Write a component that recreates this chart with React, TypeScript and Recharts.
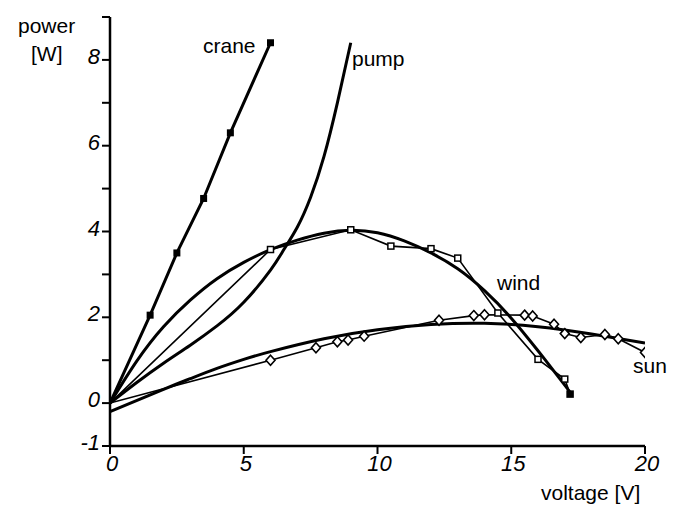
import React from 'react';
import { LineChart, Line, XAxis, YAxis } from 'recharts';

// measured points (voltage V, power W)
const craneX = [0, 1.5, 2.5, 3.5, 4.5, 6];
const craneY = [0, 2.05, 3.5, 4.77, 6.3, 8.4];

const windX = [0, 6, 9, 10.5, 12, 13, 14.5, 16, 17, 17.2];
const windY = [0, 3.58, 4.04, 3.66, 3.6, 3.38, 2.1, 1.02, 0.56, 0.21];

const sunX = [0, 6, 7.7, 8.5, 8.9, 9.5, 12.3, 13.6, 14, 15.5, 15.8, 16.6, 17, 17.6, 18.5, 19, 20];
const sunY = [0, 1.0, 1.29, 1.43, 1.47, 1.56, 1.93, 2.04, 2.06, 2.05, 2.03, 1.84, 1.62, 1.53, 1.6, 1.5, 1.18];

// fitted curves
const pumpX = [0, 1, 2, 3, 4, 5, 6, 6.5, 7, 7.5, 8, 8.5, 9];
const pumpY = [0, 0.48, 0.93, 1.35, 1.8, 2.35, 3.1, 3.58, 4.1, 4.8, 5.75, 7.0, 8.4];

const windFitX = [0, 1, 2, 3, 4, 5, 6, 7, 8, 9, 10, 11, 12, 13, 14, 15, 16, 17, 17.2];
const windFitY = [0, 0.98, 1.78, 2.4, 2.9, 3.28, 3.58, 3.8, 3.96, 4.03, 3.97, 3.78, 3.5, 3.13, 2.62, 1.98, 1.22, 0.42, 0.24];

const sunFitX = [0, 2, 3, 4, 5, 6, 8, 10, 12, 14, 16, 18, 20];
const sunFitY = [-0.2, 0.32, 0.57, 0.81, 1.02, 1.2, 1.5, 1.71, 1.83, 1.86, 1.78, 1.61, 1.4];

const yTicks = [-1, 0, 1, 2, 3, 4, 5, 6, 7, 8, 9];
const yLabelled = [-1, 0, 2, 4, 6, 8];
const xTicks = [0, 5, 10, 15, 20];

const toRows = (xs: number[], ys: number[]) => xs.map((x, i) => ({ x, y: ys[i] }));

const crane = toRows(craneX, craneY);
const wind = toRows(windX, windY);
const sun = toRows(sunX, sunY);
const pump = toRows(pumpX, pumpY);
const windFit = toRows(windFitX, windFitY);
const sunFit = toRows(sunFitX, sunFitY);

const FONT = '"Liberation Sans", Arial, sans-serif';

const FilledSquare = (p: any) => {
  if (p.payload.x === 0) return <g key={p.key} />;
  return <rect key={p.key} x={p.cx - 3.5} y={p.cy - 3.5} width={7} height={7} fill="#000" />;
};

const OpenSquare = (p: any) => {
  if (p.payload.x === 0) return <g key={p.key} />;
  const last = p.index === windX.length - 1;
  return (
    <rect key={p.key} x={p.cx - 3} y={p.cy - 3} width={6} height={6} fill={last ? '#000' : '#fff'} stroke="#000" strokeWidth={1.5} />
  );
};

const Diamond = (p: any) => {
  if (p.payload.x === 0) return <g key={p.key} />;
  const { cx, cy } = p;
  return (
    <path
      key={p.key}
      d={`M${cx},${cy - 5}L${cx + 4.5},${cy}L${cx},${cy + 5}L${cx - 4.5},${cy}Z`}
      fill="#fff"
      stroke="#000"
      strokeWidth={1.6}
    />
  );
};

const YTick = (p: any) => {
  const v = p.payload.value;
  if (!yLabelled.includes(v)) return <g />;
  return (
    <text x={p.x} y={p.y + 4} textAnchor="end" fontFamily={FONT} fontSize={22} fontStyle="italic" fill="#000">
      {v}
    </text>
  );
};

const XTick = (p: any) => (
  <text x={p.x + 2} y={471} textAnchor="middle" fontFamily={FONT} fontSize={22} fontStyle="italic" fill="#000">
    {p.payload.value}
  </text>
);

export default function App() {
  return (
    <div style={{ position: 'absolute', left: 0, top: 0, width: 677, height: 507, background: '#fff' }}>
      <LineChart width={677} height={507} margin={{ top: 17, right: 32, left: 0, bottom: 0 }}>
        <XAxis
          dataKey="x"
          type="number"
          domain={[0, 20]}
          ticks={xTicks}
          height={61}
          tickSize={8}
          axisLine={{ stroke: '#000', strokeWidth: 2.5 }}
          tickLine={{ stroke: '#000', strokeWidth: 2 }}
          tick={XTick}
          allowDataOverflow
        />
        <YAxis
          type="number"
          domain={[-1, 9]}
          ticks={yTicks}
          width={110}
          tickSize={8}
          tickMargin={2}
          axisLine={{ stroke: '#000', strokeWidth: 2.5 }}
          tickLine={{ stroke: '#000', strokeWidth: 2 }}
          tick={YTick}
          allowDataOverflow
        />
        <Line data={pump} dataKey="y" type="natural" stroke="#000" strokeWidth={3} dot={false} isAnimationActive={false} />
        <Line data={windFit} dataKey="y" type="natural" stroke="#000" strokeWidth={3} dot={false} isAnimationActive={false} />
        <Line data={sunFit} dataKey="y" type="natural" stroke="#000" strokeWidth={3} dot={false} isAnimationActive={false} />
        <Line data={wind} dataKey="y" type="linear" stroke="#000" strokeWidth={1.6} dot={OpenSquare} isAnimationActive={false} />
        <Line data={sun} dataKey="y" type="linear" stroke="#000" strokeWidth={1.6} dot={Diamond} isAnimationActive={false} />
        <Line data={crane} dataKey="y" type="linear" stroke="#000" strokeWidth={3} dot={FilledSquare} isAnimationActive={false} />
      </LineChart>
      <svg width={677} height={507} style={{ position: 'absolute', left: 0, top: 0, pointerEvents: 'none' }}>
        <g fontFamily={FONT} fontSize={21} fill="#000">
          <text x={18} y={33}>power</text>
          <text x={31} y={61}>[W]</text>
          <text x={203} y={53}>crane</text>
          <text x={352} y={66}>pump</text>
          <text x={497} y={290}>wind</text>
          <text x={633} y={373}>sun</text>
          <text x={541} y={500}>voltage [V]</text>
        </g>
      </svg>
    </div>
  );
}
